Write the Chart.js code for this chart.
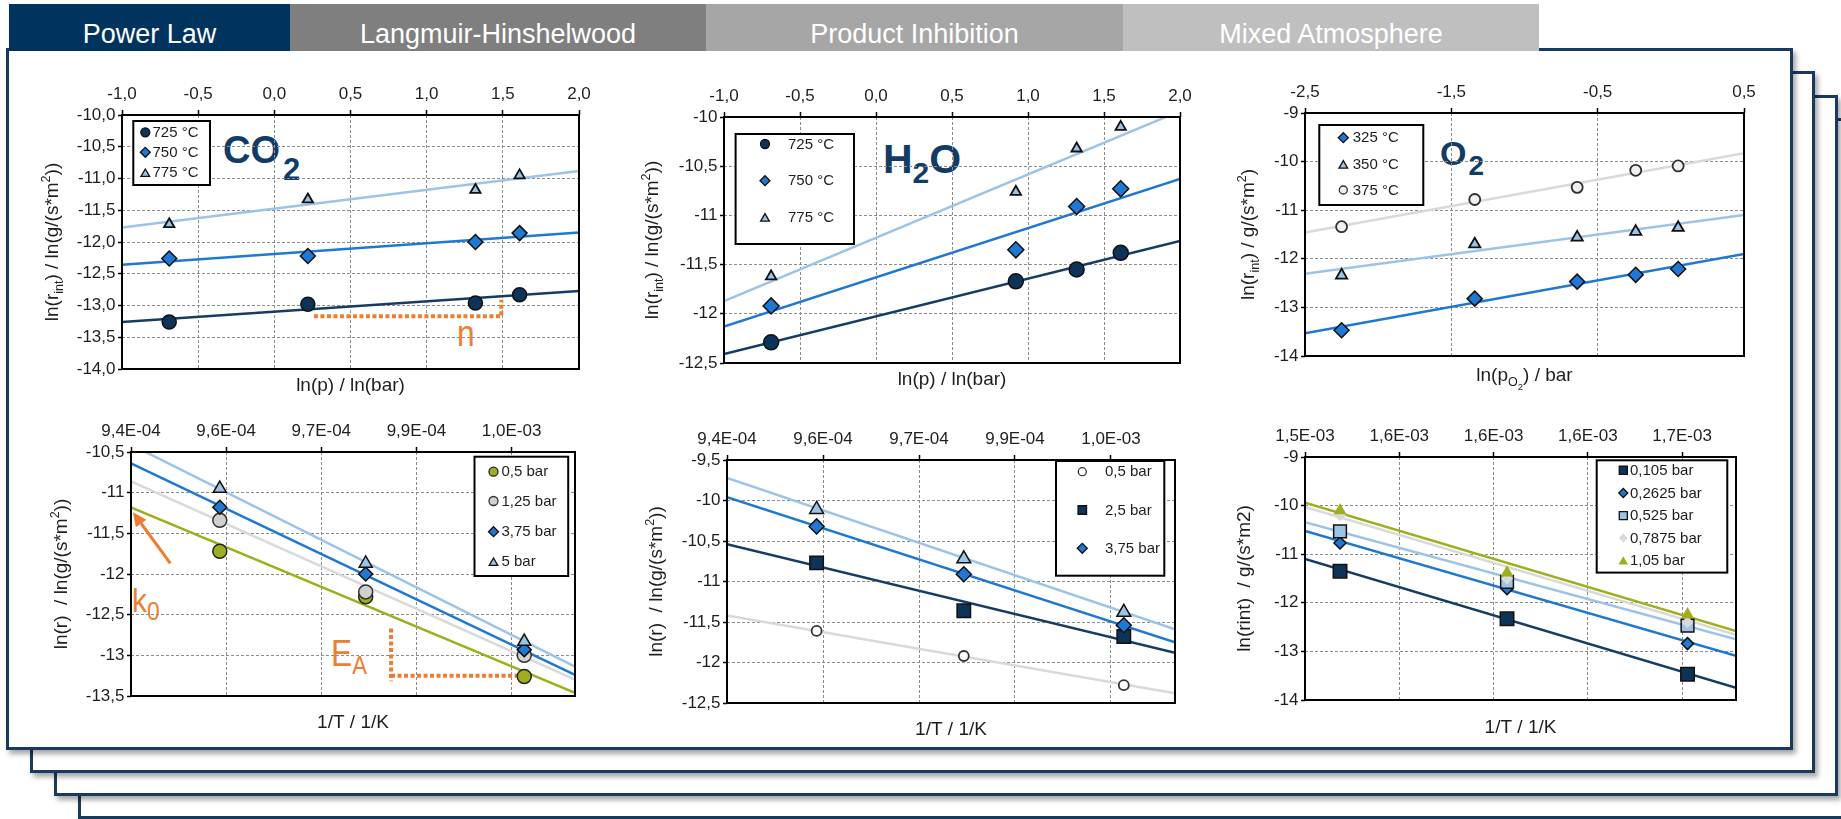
<!DOCTYPE html>
<html>
<head>
<meta charset="utf-8">
<title>Kinetic model fits</title>
<script src="https://cdn.jsdelivr.net/npm/chart.js@4.4.1/dist/chart.umd.min.js"></script>
<style>
  html, body { margin:0; padding:0; background:#fff; }
  body { width:1841px; height:819px; position:relative; overflow:hidden; font-family:'Liberation Sans', Arial, Helvetica, sans-serif; }
  .panel { position:absolute; box-sizing:border-box; background:#fff; border:3px solid #183a5e; box-shadow:3px 4px 5px rgba(0,0,0,0.35); }
  .tab { position:absolute; top:4px; height:47px; line-height:60px; text-align:center; color:#fff; font-size:27px; white-space:nowrap; overflow:visible; }
  canvas { position:absolute; }
  .lbl { position:absolute; white-space:nowrap; line-height:1; }
  .lbl span { position:relative; }
  .big { color:#123c66; font-weight:bold; }
  .org { color:#ed7d31; transform:scaleX(0.88); transform-origin:0 0; }
</style>
</head>
<body>
<div class="panel" style="left:78px;top:118px;width:1784px;height:701px"></div>
<div class="panel" style="left:54px;top:95px;width:1784px;height:701px"></div>
<div class="panel" style="left:30px;top:71px;width:1785px;height:702px"></div>
<div class="panel" style="left:6px;top:48px;width:1787px;height:702px"></div>
<div id="tabs"></div>

<div class="lbl big" style="left:223px;top:131px;font-size:38px">CO<span style="font-size:31px;top:17px;margin-left:3px">2</span></div>
<div class="lbl big" style="left:883px;top:139px;font-size:41px">H<span style="font-size:30px;top:10px">2</span>O</div>
<div class="lbl big" style="left:1440px;top:136px;font-size:34px">O<span style="font-size:28px;top:10px;margin-left:2px">2</span></div>
<div class="lbl org" style="left:457px;top:316px;font-size:36px">n</div>
<div class="lbl org" style="left:132px;top:583px;font-size:34px">k<span style="font-size:26px;top:8px">0</span></div>
<div class="lbl org" style="left:331px;top:636px;font-size:36px">E<span style="font-size:25px;top:8px">A</span></div>

<script>
// ===================== DATA =====================
const tabLabels = ['Power Law', 'Langmuir-Hinshelwood', 'Product Inhibition', 'Mixed Atmosphere'];

// --- Power law: CO2 partial pressure variation ---
const co2LnP   = [-0.69, 0.22, 1.32, 1.61];
const co2T725  = [-13.26, -12.98, -12.96, -12.83];
const co2T750  = [-12.26, -12.22, -12.00, -11.86];
const co2T775  = [-11.72, -11.33, -11.18, -10.95];
const co2FitX  = [-1.0, 2.0];
const co2Fit725 = [-13.26, -12.77];
const co2Fit750 = [-12.36, -11.85];
const co2Fit775 = [-11.77, -10.88];
const co2Labels = ['725 °C', '750 °C', '775 °C'];
const nLineX = [0.26, 1.49, 1.49];
const nLineY = [-13.17, -13.17, -12.91];

// --- Product inhibition: H2O partial pressure variation ---
const h2oLnP   = [-0.69, 0.92, 1.32, 1.61];
const h2oT725  = [-12.29, -11.67, -11.55, -11.38];
const h2oT750  = [-11.92, -11.35, -10.91, -10.73];
const h2oT775  = [-11.62, -10.76, -10.32, -10.10];
const h2oFitX  = [-1.0, 2.0];
const h2oFit725 = [-12.41, -11.26];
const h2oFit750 = [-12.13, -10.63];
const h2oFit775 = [-11.87, -9.94];
const h2oLabels = ['725 °C', '750 °C', '775 °C'];

// --- Mixed atmosphere: O2 partial pressure variation ---
const o2LnP   = [-2.25, -1.34, -0.64, -0.24, 0.05];
const o2T325  = [-13.47, -12.82, -12.47, -12.33, -12.21];
const o2T350  = [-12.34, -11.70, -11.56, -11.44, -11.36];
const o2T375  = [-11.34, -10.78, -10.53, -10.18, -10.09];
const o2FitX  = [-2.5, 0.5];
const o2Fit325 = [-13.53, -11.90];
const o2Fit350 = [-12.31, -11.10];
const o2Fit375 = [-11.46, -9.83];
const o2Labels = ['325 °C', '350 °C', '375 °C'];

// --- Power law Arrhenius ---
const plInvT  = [9.54e-4, 9.77e-4, 1.002e-3];
const plP05   = [-11.72, -12.28, -13.26];
const plP125  = [-11.34, -12.22, -13.00];
const plP375  = [-11.18, -12.00, -12.93];
const plP5    = [-10.95, -11.87, -12.83];
const plFitX  = [9.4e-4, 1.01e-3];
const plFit05  = [-11.18, -13.46];
const plFit125 = [-10.86, -13.30];
const plFit375 = [-10.64, -13.24];
const plFit5   = [-10.41, -13.14];
const plLabels = ['0,5 bar', '1,25 bar', '3,75 bar', '5 bar'];
const k0ArrowX = [9.462e-4, 9.403e-4];
const k0ArrowY = [-11.87, -11.24];
const eaVertX = [9.81e-4, 9.81e-4];
const eaVertY = [-12.67, -13.32];
const eaHorX  = [9.81e-4, 1.0017e-3];
const eaHorY  = [-13.25, -13.25];

// --- Product inhibition Arrhenius ---
const piInvT  = [9.54e-4, 9.77e-4, 1.002e-3];
const piP05   = [-11.61, -11.92, -12.28];
const piP25   = [-10.77, -11.36, -11.68];
const piP375  = [-10.32, -10.91, -11.54];
const piP5    = [-10.11, -10.72, -11.38];
const piFitX  = [9.4e-4, 1.01e-3];
const piFit05  = [-11.42, -12.38];
const piFit25  = [-10.54, -11.88];
const piFit375 = [-9.96, -11.75];
const piFit5   = [-9.72, -11.59];
const piLabels = ['0,5 bar', '2,5 bar', '3,75 bar', '5 bar'];

// --- Mixed atmosphere Arrhenius ---
const maInvT   = [1.543e-3, 1.605e-3, 1.672e-3];
const maP0105  = [-11.35, -12.33, -13.47];
const maP02625 = [-10.77, -11.71, -12.84];
const maP0525  = [-10.53, -11.57, -12.47];
const maP07875 = [-10.20, -11.50, -12.40];
const maP105   = [-10.10, -11.38, -12.24];
const maFitX   = [1.53e-3, 1.69e-3];
const maFit0105  = [-11.10, -13.75];
const maFit02625 = [-10.52, -13.09];
const maFit0525  = [-10.34, -12.75];
const maFit07875 = [-10.03, -12.66];
const maFit105   = [-9.94, -12.58];
const maLabels = ['0,105 bar', '0,2625 bar', '0,525 bar', '0,7875 bar', '1,05 bar'];

// --- tick values and labels ---
const lnPTicks = [-1.0, -0.5, 0.0, 0.5, 1.0, 1.5, 2.0];
const lnPTickLabels = ['-1,0', '-0,5', '0,0', '0,5', '1,0', '1,5', '2,0'];
const co2YTicks = [-14, -13.5, -13, -12.5, -12, -11.5, -11, -10.5, -10];
const co2YTickLabels = ['-14,0', '-13,5', '-13,0', '-12,5', '-12,0', '-11,5', '-11,0', '-10,5', '-10,0'];
const h2oYTicks = [-12.5, -12, -11.5, -11, -10.5, -10];
const h2oYTickLabels = ['-12,5', '-12', '-11,5', '-11', '-10,5', '-10'];
const o2XTicks = [-2.5, -1.5, -0.5, 0.5];
const o2XTickLabels = ['-2,5', '-1,5', '-0,5', '0,5'];
const o2YTicks = [-14, -13, -12, -11, -10, -9];
const o2YTickLabels = ['-14', '-13', '-12', '-11', '-10', '-9'];
const invTTicks = [9.4e-4, 9.55e-4, 9.7e-4, 9.85e-4, 1.0e-3];
const invTTickLabels = ['9,4E-04', '9,6E-04', '9,7E-04', '9,9E-04', '1,0E-03'];
const plYTicks = [-13.5, -13, -12.5, -12, -11.5, -11, -10.5];
const plYTickLabels = ['-13,5', '-13', '-12,5', '-12', '-11,5', '-11', '-10,5'];
const piYTicks = [-12.5, -12, -11.5, -11, -10.5, -10, -9.5];
const piYTickLabels = ['-12,5', '-12', '-11,5', '-11', '-10,5', '-10', '-9,5'];
const maXTicks = [1.53e-3, 1.565e-3, 1.6e-3, 1.635e-3, 1.67e-3];
const maXTickLabels = ['1,5E-03', '1,6E-03', '1,6E-03', '1,6E-03', '1,7E-03'];
const maYTicks = [-14, -13, -12, -11, -10, -9];
const maYTickLabels = ['-14', '-13', '-12', '-11', '-10', '-9'];

// ===================== STYLE / LAYOUT =====================
const FAM = "'Liberation Sans', Arial, Helvetica, sans-serif";
const TXT = '#1e1e1e';
const C_NAVY = '#0d3458', C_NAVYL = '#173c63', C_BLUE = '#1f78d2', C_LIGHT = '#9dc3e6',
      C_GRAY = '#d9d9d9', C_OLIVE = '#9fae1e', C_ORANGE = '#ed7d31', C_EDGE = '#111';
const PAD_L = 110, PAD_T = 50, PAD_R = 25, PAD_B = 60;
const TITLE = 19;

// tabs
(function () {
  const edges = [9, 290, 706, 1123, 1539];
  const cols = ['#00345f', '#7f7f7f', '#a6a6a6', '#bfbfbf'];
  const host = document.getElementById('tabs');
  tabLabels.forEach((t, i) => {
    const d = document.createElement('div');
    d.className = 'tab';
    d.style.left = edges[i] + 'px';
    d.style.width = (edges[i + 1] - edges[i]) + 'px';
    d.style.background = cols[i];
    d.textContent = t;
    host.appendChild(d);
  });
})();

function xy(xs, ys) { return xs.map((x, i) => ({ x: x, y: ys[i] })); }
function P(label, xs, ys, m) {
  return { type: 'scatter', label: label, data: xy(xs, ys), showLine: false,
    pointStyle: m.s, pointRadius: m.r, pointHoverRadius: m.r,
    pointBackgroundColor: m.f, pointBorderColor: m.b, pointBorderWidth: m.w, pointHoverBorderWidth: m.w,
    backgroundColor: m.f, borderColor: m.b, _m: m };
}
function L(label, xs, ys, color, width, dash) {
  return { type: 'line', label: label, data: xy(xs, ys), showLine: true, borderColor: color, borderWidth: width,
    borderDash: dash || [], pointRadius: 0, pointHoverRadius: 0, fill: false, tension: 0,
    borderCapStyle: 'butt', borderJoinStyle: 'miter' };
}
const mk = (s, r, f, b, w) => ({ s: s, r: r, f: f, b: b, w: w });

const yT12 = [['ln(r', ''], ['int', 'sub'], [') / ln(g/(s*m', ''], ['2', 'sup'], ['))', '']];
const yT3 = [['ln(r', ''], ['int', 'sub'], [') / g/(s*m', ''], ['2', 'sup'], [')', '']];
const yT45 = [['ln(r)  / ln(g/(s*m', ''], ['2', 'sup'], ['))', '']];
const yT6 = [['ln(rint)  / g/(s*m2)', '']];
const xTp = [['ln(p) / ln(bar)', '']];
const xTo2 = [['ln(p', ''], ['O', 'sub'], ['2', 'ss'], [') / bar', '']];
const xTT = [['1/T / 1/K', '']];

const specs = [
  { id: 'co2', plot: [122, 115, 457, 254],
    x: { min: -1, max: 2, ticks: lnPTicks, labels: lnPTickLabels },
    y: { min: -14, max: -10, ticks: co2YTicks, labels: co2YTickLabels },
    points: [
      P(co2Labels[0], co2LnP, co2T725, mk('circle', 7, C_NAVY, C_EDGE, 1.5)),
      P(co2Labels[1], co2LnP, co2T750, mk('rectRot', 7.5, C_BLUE, C_EDGE, 1.5)),
      P(co2Labels[2], co2LnP, co2T775, mk('triangle', 6, C_LIGHT, C_EDGE, 1.8))],
    lines: [L('Fit 725 °C', co2FitX, co2Fit725, C_NAVYL, 2.5), L('Fit 750 °C', co2FitX, co2Fit750, C_BLUE, 2.5), L('Fit 775 °C', co2FitX, co2Fit775, C_LIGHT, 2.5)],
    annot: [L('n', nLineX, nLineY, C_ORANGE, 4, [4, 2.5])],
    legend: { x: 11.3, y: 6, w: 76.7, h: 64, rows: [17.3, 37.3, 57.7], mx: 23.3, tx: 30.5, n: 3, lr: [4.5, 5, 5] },
    xTitle: { segs: xTp, off: 21.7 }, yTitle: { segs: yT12, off: -69 } },

  { id: 'h2o', plot: [724, 117, 456, 246],
    x: { min: -1, max: 2, ticks: lnPTicks, labels: lnPTickLabels },
    y: { min: -12.5, max: -10, ticks: h2oYTicks, labels: h2oYTickLabels },
    points: [
      P(h2oLabels[0], h2oLnP, h2oT725, mk('circle', 7.5, C_NAVY, C_EDGE, 1.5)),
      P(h2oLabels[1], h2oLnP, h2oT750, mk('rectRot', 8, C_BLUE, C_EDGE, 1.5)),
      P(h2oLabels[2], h2oLnP, h2oT775, mk('triangle', 6, C_LIGHT, C_EDGE, 1.8))],
    lines: [L('Fit 725 °C', h2oFitX, h2oFit725, C_NAVYL, 2.5), L('Fit 750 °C', h2oFitX, h2oFit750, C_BLUE, 2.5), L('Fit 775 °C', h2oFitX, h2oFit775, C_LIGHT, 2.5)],
    legend: { x: 11.6, y: 17, w: 118.4, h: 110, rows: [27, 63.7, 100.3], mx: 41, tx: 64, n: 3, lr: [4.5, 5, 5] },
    xTitle: { segs: xTp, off: 21.7 }, yTitle: { segs: yT12, off: -71 } },

  { id: 'o2', plot: [1305, 113, 439, 243],
    x: { min: -2.5, max: 0.5, ticks: o2XTicks, labels: o2XTickLabels },
    y: { min: -14, max: -9, ticks: o2YTicks, labels: o2YTickLabels },
    points: [
      P(o2Labels[0], o2LnP, o2T325, mk('rectRot', 7.5, C_BLUE, C_EDGE, 1.5)),
      P(o2Labels[1], o2LnP, o2T350, mk('triangle', 6.5, C_LIGHT, C_EDGE, 1.8)),
      P(o2Labels[2], o2LnP, o2T375, mk('circle', 5.5, '#f0f0f0', '#303030', 1.8))],
    lines: [L('Fit 325 °C', o2FitX, o2Fit325, C_BLUE, 2.5), L('Fit 350 °C', o2FitX, o2Fit350, C_LIGHT, 2.5), L('Fit 375 °C', o2FitX, o2Fit375, C_GRAY, 2.5)],
    legend: { x: 14.3, y: 12, w: 104, h: 80, rows: [24.7, 51.3, 77], mx: 38.3, tx: 47.7, n: 3, lr: [5, 5, 4] },
    xTitle: { segs: xTo2, off: 25 }, yTitle: { segs: yT3, off: -56 } },

  { id: 'plArr', plot: [131, 452, 444, 244],
    x: { min: 9.4e-4, max: 1.01e-3, ticks: invTTicks, labels: invTTickLabels },
    y: { min: -13.5, max: -10.5, ticks: plYTicks, labels: plYTickLabels },
    points: [
      P(plLabels[0], plInvT, plP05, mk('circle', 7, C_OLIVE, '#222', 1.5)),
      P(plLabels[1], plInvT, plP125, mk('circle', 7, '#d0d0d0', '#303030', 1.5)),
      P(plLabels[2], plInvT, plP375, mk('rectRot', 7, C_BLUE, C_EDGE, 1.5)),
      P(plLabels[3], plInvT, plP5, mk('triangle', 7.5, C_LIGHT, C_EDGE, 1.5))],
    lines: [L('Fit 0,5 bar', plFitX, plFit05, C_OLIVE, 2.5), L('Fit 1,25 bar', plFitX, plFit125, C_GRAY, 2.5),
            L('Fit 3,75 bar', plFitX, plFit375, C_BLUE, 2.5), L('Fit 5 bar', plFitX, plFit5, C_LIGHT, 2.5)],
    annot: [L('EA vertical', eaVertX, eaVertY, C_ORANGE, 4, [4, 2.5]), L('EA horizontal', eaHorX, eaHorY, C_ORANGE, 4, [4, 2.5])],
    arrow: { xs: k0ArrowX, ys: k0ArrowY },
    legend: { x: 343.5, y: 4.7, w: 93.7, h: 119.3, rows: [19.7, 49, 79.7, 109.7], mx: 362.5, tx: 370.5, n: 4, lr: [4.5, 4.5, 5, 5] },
    xTitle: { segs: xTT, off: 32 }, yTitle: { segs: yT45, off: -69 } },

  { id: 'piArr', plot: [727, 460, 448, 243],
    x: { min: 9.4e-4, max: 1.01e-3, ticks: invTTicks, labels: invTTickLabels },
    y: { min: -12.5, max: -9.5, ticks: piYTicks, labels: piYTickLabels },
    points: [
      P(piLabels[0], piInvT, piP05, mk('circle', 5, '#ffffff', '#333', 1.8)),
      P(piLabels[1], piInvT, piP25, mk('rect', 9.5, C_NAVY, C_EDGE, 1.5)),
      P(piLabels[2], piInvT, piP375, mk('rectRot', 7.5, C_BLUE, C_EDGE, 1.5)),
      P(piLabels[3], piInvT, piP5, mk('triangle', 8, C_LIGHT, C_EDGE, 1.5))],
    lines: [L('Fit 0,5 bar', piFitX, piFit05, C_GRAY, 2.5), L('Fit 2,5 bar', piFitX, piFit25, C_NAVYL, 2.5),
            L('Fit 3,75 bar', piFitX, piFit375, C_BLUE, 2.5), L('Fit 5 bar', piFitX, piFit5, C_LIGHT, 2.5)],
    legend: { x: 329, y: 1, w: 108.3, h: 114.7, rows: [11.7, 50, 88.3], mx: 355.3, tx: 378, n: 3, lr: [4, 6, 5] },
    xTitle: { segs: xTT, off: 32 }, yTitle: { segs: yT45, off: -70 } },

  { id: 'maArr', plot: [1305, 457, 431, 243],
    x: { min: 1.53e-3, max: 1.69e-3, ticks: maXTicks, labels: maXTickLabels },
    y: { min: -14, max: -9, ticks: maYTicks, labels: maYTickLabels },
    points: [
      P(maLabels[0], maInvT, maP0105, mk('rect', 9.5, C_NAVY, C_EDGE, 1.5)),
      P(maLabels[1], maInvT, maP02625, mk('rectRot', 6, C_BLUE, C_EDGE, 1.5)),
      P(maLabels[2], maInvT, maP0525, mk('rect', 9, C_LIGHT, C_EDGE, 1.5)),
      P(maLabels[3], maInvT, maP07875, mk('rectRot', 6, C_GRAY, C_GRAY, 0)),
      P(maLabels[4], maInvT, maP105, mk('triangle', 7.5, C_OLIVE, C_OLIVE, 0))],
    lines: [L('Fit 0,105 bar', maFitX, maFit0105, C_NAVYL, 2.5), L('Fit 0,2625 bar', maFitX, maFit02625, C_BLUE, 2.5),
            L('Fit 0,525 bar', maFitX, maFit0525, C_LIGHT, 2.5), L('Fit 0,7875 bar', maFitX, maFit07875, C_GRAY, 2.5),
            L('Fit 1,05 bar', maFitX, maFit105, C_OLIVE, 2.5)],
    legend: { x: 291.7, y: 3.3, w: 130.6, h: 112.3, rows: [13.3, 36, 58.6, 81, 103.3], mx: 318.3, tx: 325, n: 5, lr: [5.7, 4.5, 5.7, 4.5, 5.5] },
    xTitle: { segs: xTT, off: 33 }, yTitle: { segs: yT6, off: -60 } }
];

// ===================== DRAWING HELPERS =====================
function drawMarker(ctx, s, x, y, r, fill, stroke, bw) {
  ctx.beginPath();
  if (s === 'circle') ctx.arc(x, y, r, 0, Math.PI * 2);
  else if (s === 'rectRot') { ctx.moveTo(x - r, y); ctx.lineTo(x, y - r); ctx.lineTo(x + r, y); ctx.lineTo(x, y + r); ctx.closePath(); }
  else if (s === 'rect') { const h = r * Math.SQRT1_2; ctx.rect(x - h, y - h, 2 * h, 2 * h); }
  else if (s === 'triangle') {
    const yy = y + r / 4;
    ctx.moveTo(x, yy - r);
    ctx.lineTo(x + r * Math.sin(2 * Math.PI / 3), yy - r * Math.cos(2 * Math.PI / 3));
    ctx.lineTo(x + r * Math.sin(4 * Math.PI / 3), yy - r * Math.cos(4 * Math.PI / 3));
    ctx.closePath();
  }
  ctx.fillStyle = fill; ctx.fill();
  if (bw > 0) { ctx.lineWidth = bw; ctx.strokeStyle = stroke; ctx.stroke(); }
}

function drawRich(ctx, segs, x, y, size, rotate) {
  const spec = { '': [1, 0], sub: [0.66, 0.28], sup: [0.66, -0.42], ss: [0.5, 0.48] };
  ctx.save();
  ctx.translate(x, y);
  if (rotate) ctx.rotate(-Math.PI / 2);
  let total = 0;
  const parts = segs.map(([t, k]) => {
    const [sc, dy] = spec[k || ''];
    const f = (size * sc).toFixed(2) + 'px ' + FAM;
    ctx.font = f;
    const w = ctx.measureText(t).width;
    total += w;
    return { t: t, f: f, w: w, dy: dy * size };
  });
  let cx = -total / 2;
  ctx.textAlign = 'left'; ctx.textBaseline = 'alphabetic'; ctx.fillStyle = TXT;
  parts.forEach(p => { ctx.font = p.f; ctx.fillText(p.t, cx, p.dy); cx += p.w; });
  ctx.restore();
}

function overlay(sp) {
  return {
    id: 'overlay_' + sp.id,
    afterDatasetsDraw(chart) {
      const ctx = chart.ctx, a = chart.chartArea;
      ctx.save();
      ctx.strokeStyle = '#000'; ctx.lineWidth = 2;
      ctx.strokeRect(a.left, a.top, a.right - a.left, a.bottom - a.top);
      ctx.restore();

      if (sp.arrow) {
        const xs = chart.scales.x, ys = chart.scales.y;
        const x0 = xs.getPixelForValue(sp.arrow.xs[0]), y0 = ys.getPixelForValue(sp.arrow.ys[0]);
        const x1 = xs.getPixelForValue(sp.arrow.xs[1]), y1 = ys.getPixelForValue(sp.arrow.ys[1]);
        const ang = Math.atan2(y1 - y0, x1 - x0), hl = 14, hw = 6.5;
        const bx = x1 - hl * Math.cos(ang), by = y1 - hl * Math.sin(ang);
        ctx.save();
        ctx.strokeStyle = C_ORANGE; ctx.lineWidth = 3;
        ctx.beginPath(); ctx.moveTo(x0, y0); ctx.lineTo(bx, by); ctx.stroke();
        ctx.fillStyle = C_ORANGE;
        ctx.beginPath(); ctx.moveTo(x1, y1);
        ctx.lineTo(bx + hw * Math.sin(ang), by - hw * Math.cos(ang));
        ctx.lineTo(bx - hw * Math.sin(ang), by + hw * Math.cos(ang));
        ctx.closePath(); ctx.fill();
        ctx.restore();
      }

      const lg = sp.legend;
      if (lg) {
        ctx.save();
        ctx.fillStyle = '#fff';
        ctx.fillRect(a.left + lg.x, a.top + lg.y, lg.w, lg.h);
        ctx.strokeStyle = '#000'; ctx.lineWidth = 2;
        ctx.strokeRect(a.left + lg.x, a.top + lg.y, lg.w, lg.h);
        ctx.font = '15px ' + FAM; ctx.textBaseline = 'middle'; ctx.textAlign = 'left';
        for (let i = 0; i < lg.n; i++) {
          const d = sp.points[i], m = d._m, yy = a.top + lg.rows[i];
          drawMarker(ctx, m.s, a.left + lg.mx, yy, lg.lr[i], m.f, m.b, Math.min(m.w, 1.3));
          ctx.fillStyle = TXT;
          ctx.fillText(d.label, a.left + lg.tx, yy + 0.5);
        }
        ctx.restore();
      }

      drawRich(ctx, sp.xTitle.segs, (a.left + a.right) / 2, a.bottom + sp.xTitle.off, TITLE, false);
      drawRich(ctx, sp.yTitle.segs, a.left + sp.yTitle.off + 0.26 * TITLE, (a.top + a.bottom) / 2, TITLE, true);
    }
  };
}

function axis(ax, pos, isX) {
  return {
    type: 'linear', position: pos, min: ax.min, max: ax.max,
    afterBuildTicks: s => { s.ticks = ax.ticks.map(v => ({ value: v })); },
    afterFit: s => { if (isX) s.height = PAD_T; else s.width = PAD_L; },
    ticks: { autoSkip: false, maxRotation: 0, minRotation: 0, color: TXT, font: { family: FAM, size: 17 },
             padding: isX ? 5.5 : 2.5, callback: (v, i) => ax.labels[i] },
    grid: { color: '#8c8c8c', lineWidth: 1, drawTicks: true, tickLength: isX ? 5 : 4, tickColor: '#000', tickWidth: 1.5 },
    border: { display: false, dash: [3, 2] }
  };
}

window.charts = specs.map(sp => {
  const [Lp, Tp, W, H] = sp.plot;
  const cv = document.createElement('canvas');
  const cw = W + PAD_L + PAD_R, ch = H + PAD_T + PAD_B;
  cv.width = cw; cv.height = ch;
  cv.style.cssText = 'left:' + (Lp - PAD_L) + 'px;top:' + (Tp - PAD_T) + 'px;width:' + cw + 'px;height:' + ch + 'px';
  document.body.appendChild(cv);
  const pts = sp.points.map((d, i) => Object.assign(d, { order: -i }));
  const ann = (sp.annot || []).map(d => Object.assign(d, { order: 10 }));
  const lns = sp.lines.map(d => Object.assign(d, { order: 20 }));
  return new Chart(cv, {
    type: 'scatter',
    data: { datasets: pts.concat(ann, lns) },
    options: {
      responsive: false, animation: false, devicePixelRatio: 1,
      layout: { padding: { left: 0, top: 0, right: PAD_R, bottom: PAD_B } },
      plugins: { legend: { display: false }, tooltip: { enabled: false } },
      events: [],
      scales: { x: axis(sp.x, 'top', true), y: axis(sp.y, 'left', false) }
    },
    plugins: [overlay(sp)]
  });
});
</script>
</body>
</html>
